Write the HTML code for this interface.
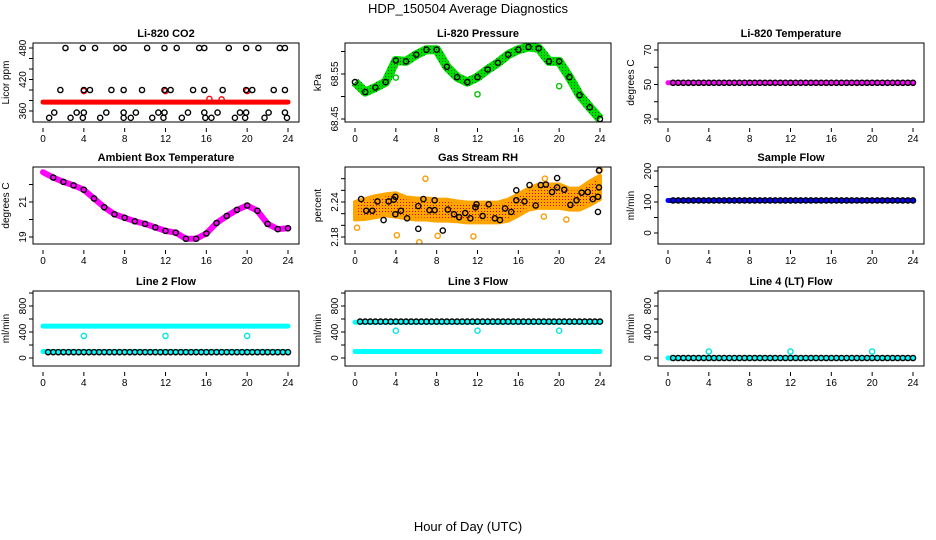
<!DOCTYPE html>
<html><head><meta charset="utf-8">
<style>
html,body{margin:0;padding:0;background:#fff;}
svg{display:block;font-family:"Liberation Sans",Arial,sans-serif;}
</style></head>
<body>
<svg id="chart" width="936" height="540" viewBox="0 0 936 540">
<defs>
<pattern id="orangeDots" width="3" height="3" patternUnits="userSpaceOnUse">
<rect width="3" height="3" fill="#ffa500"/><rect x="1" y="1" width="1" height="1" fill="#e00000"/>
</pattern>
<pattern id="greenDots" width="3" height="3" patternUnits="userSpaceOnUse">
<rect width="3" height="3" fill="#00e000"/><rect x="1" y="1" width="1" height="1" fill="#006000"/>
</pattern>
</defs>
<text x="468" y="13" text-anchor="middle" font-size="13">HDP_150504  Average Diagnostics</text>
<text x="468" y="531" text-anchor="middle" font-size="13">Hour of Day (UTC)</text>
</svg>
<script>
// ---------- data ----------
const hours = [0,1,2,3,4,5,6,7,8,9,10,11,12,13,14,15,16,17,18,19,20,21,22,23,24];
const co2Top = [2.2,3.9,5.1,7.2,7.9,10.2,11.9,13.1,15.3,15.8,18.2,19.9,21.1,23.2,23.7];
const co2Mid = [1.7,4.0,4.6,6.7,7.9,9.7,11.9,12.5,14.7,15.8,17.6,19.9,20.5,22.6,23.7];
const co2Low = [1.1,3.3,4.0,6.2,7.9,9.1,11.3,11.9,14.2,15.8,17.1,19.3,19.9,22.1,23.7];
const co2Bot = [0.6,2.7,3.9,5.6,7.9,8.6,10.7,11.8,13.6,15.9,16.5,18.8,19.8,21.7,23.9];
const co2Levels = [480, 400, 357, 347];
const co2RedLevel = 377;
const co2RedOutH = [4, 12, 16.3, 17.5, 20];
const co2RedOutV = [398, 398, 383, 382, 398];
const pressure = [68.532,68.51,68.52,68.532,68.58,68.578,68.593,68.604,68.604,68.566,68.543,68.532,68.543,68.56,68.575,68.593,68.604,68.61,68.607,68.578,68.578,68.543,68.503,68.476,68.45];
const pressOutH = [4, 12, 20];
const pressOutV = [68.542, 68.505, 68.523];
const liTemp = 51;
const ambient = [22.7,22.4,22.15,21.95,21.7,21.2,20.7,20.3,20.1,19.9,19.75,19.55,19.35,19.25,18.9,18.9,19.2,19.8,20.2,20.55,20.8,20.5,19.75,19.45,19.5];
const rhCenter = [2.225,2.228,2.232,2.235,2.235,2.23,2.228,2.228,2.226,2.226,2.224,2.222,2.222,2.222,2.222,2.226,2.235,2.245,2.25,2.25,2.25,2.245,2.245,2.255,2.265];
const rhHalf = [0.015,0.017,0.018,0.018,0.02,0.018,0.018,0.018,0.018,0.018,0.017,0.017,0.017,0.017,0.017,0.018,0.018,0.018,0.02,0.02,0.02,0.018,0.018,0.02,0.02];
const rhBlackH = [0.6,1.1,1.7,2.2,2.8,3.3,3.8,3.95,3.95,4.5,5.1,6.2,6.2,6.7,7.3,7.8,7.8,8.6,9.1,9.7,10.2,10.8,11.3,11.8,11.9,12.5,13.1,13.7,14.2,14.7,15.3,15.8,15.8,16.6,17.1,17.7,18.2,18.7,19.3,19.8,19.8,20.5,21.1,21.7,22.2,22.8,23.3,23.8,23.8,23.9,23.9];
const rhBlackV = [2.245,2.225,2.225,2.241,2.209,2.241,2.244,2.249,2.219,2.225,2.212,2.233,2.194,2.245,2.226,2.226,2.243,2.191,2.227,2.219,2.214,2.221,2.212,2.231,2.236,2.216,2.236,2.212,2.209,2.229,2.223,2.243,2.26,2.241,2.269,2.234,2.269,2.27,2.257,2.281,2.265,2.261,2.235,2.243,2.256,2.257,2.245,2.223,2.249,2.265,2.294];
const rhOutH = [0.2,4.1,6.3,6.9,8.1,11.6,18.5,18.6,20.7,24];
const rhOutV = [2.196,2.183,2.171,2.28,2.182,2.181,2.215,2.28,2.21,2.295];
const sampleFlow = 105;
const line2Cyan = [490, 100];
const line2Black = 90;
const line2OutV = 340;
const line3Cyan = [550, 100];
const line3Black = 560;
const line3OutV = 420;
const line4Cyan = 0;
const line4Black = 0;
const line4OutV = 100;
const outlierHours = [4, 12, 20];
const xTicks = [0,4,8,12,16,20,24];

// ---------- drawing ----------
const NS = 'http://www.w3.org/2000/svg';
const svg = document.getElementById('chart');
function mk(tag, attrs, parent) {
  const e = document.createElementNS(NS, tag);
  for (const k in attrs) e.setAttribute(k, attrs[k]);
  (parent || svg).appendChild(e);
  return e;
}
const colX0 = [43, 355, 668];
const rowBox = [[43,122],[167,244],[291,366]];
const XS = (913 - 668) / 24;

function panel(col, row, title, ylab, ref, ticks, labels, name) {
  const g = mk('g', {});
  
  
  const x0 = colX0[col];
  const [top, bot] = rowBox[row];
  const left = x0 - 10, right = x0 + 24 * XS + 11;
  const sx = h => x0 + h * XS;
  const k = (ref[3] - ref[1]) / (ref[2] - ref[0]);
  const sy = v => ref[1] + (v - ref[0]) * k;
  const t = mk('text', {x: (left + right) / 2, y: top - 6, 'text-anchor': 'middle', 'font-size': 11, 'font-weight': 'bold'}, g);
  t.textContent = title;
  
  
  const yl = mk('text', {x: 0, y: 0, 'text-anchor': 'middle', 'font-size': 10, transform: `translate(${left - 24},${(top + bot) / 2}) rotate(-90)`}, g);
  yl.textContent = ylab;
  
  
  for (const v of xTicks) {
    mk('line', {x1: sx(v), x2: sx(v), y1: bot + 6, y2: bot + 10, stroke: '#000'}, g);
    const tx = mk('text', {x: sx(v), y: bot + 20, 'text-anchor': 'middle', 'font-size': 10}, g);
    tx.textContent = v;
    
    
  }
  for (const v of ticks) {
    mk('line', {x1: left - 4, x2: left, y1: sy(v), y2: sy(v), stroke: '#000'}, g);
  }
  for (const v of labels) {
    const ty = mk('text', {x: 0, y: 0, 'text-anchor': 'middle', 'font-size': 10, transform: `translate(${left - 7},${sy(v)}) rotate(-90)`}, g);
    ty.textContent = v;
    
    
  }
  const clip = 'clip' + col + row;
  const cp = mk('clipPath', {id: clip}, g);
  mk('rect', {x: left, y: top, width: right - left, height: bot - top}, cp);
  const plot = mk('g', {'clip-path': `url(#${clip})`}, g);
  mk('rect', {x: left, y: top, width: right - left, height: bot - top, fill: 'none', stroke: '#000'}, g);
  return {sx, sy, plot};
}
function pt(p, h, v, color, nm, r) {
  const c = mk('circle', {cx: p.sx(h), cy: p.sy(v), r: r || 2.6, fill: 'none', stroke: color, 'stroke-width': 1.4}, p.plot);
  
  
}
function band(p, v, color, w, nm, h0, h1) {
  const l = mk('line', {x1: p.sx(h0 === undefined ? 0 : h0), x2: p.sx(h1 === undefined ? 24 : h1), y1: p.sy(v), y2: p.sy(v), stroke: color, 'stroke-width': w, 'stroke-linecap': 'round'}, p.plot);
  
  
}
function blackRow(p, v, nm) {
  for (let h = 0.5; h <= 24.01; h += 0.5) pt(p, h, v, '#000', nm);
}

// Panel 1: CO2
let p = panel(0, 0, 'Li-820 CO2', 'Licor ppm', [360,111,480,48], [360,380,400,420,440,460,480], [360,420,480], 'co2');
band(p, co2RedLevel, '#ff0000', 5, 'co2-red-series');
co2RedOutH.forEach((h, i) => pt(p, h, co2RedOutV[i], '#ff0000', 'co2-red-outlier'));
[co2Top, co2Mid, co2Low, co2Bot].forEach((arr, j) => arr.forEach(h => pt(p, h, co2Levels[j], '#000', 'co2-black-point')));

// Panel 2: Pressure
p = panel(1, 0, 'Li-820 Pressure', 'kPa', [68.45,119,68.55,74], [68.45,68.50,68.55,68.60], ['68.45','68.55'], 'pressure');
const pline = mk('polyline', {points: hours.map((h, i) => p.sx(h) + ',' + p.sy(pressure[i])).join(' '), fill: 'none', stroke: 'url(#greenDots)', 'stroke-width': 9, 'stroke-linejoin': 'round'}, p.plot);


pressOutH.forEach((h, i) => pt(p, h, pressOutV[i], '#00c000', 'pressure-green-outlier'));
hours.forEach((h, i) => pt(p, h, pressure[i], '#000', 'pressure-black-point'));

// Panel 3: Li-820 Temperature
p = panel(2, 0, 'Li-820 Temperature', 'degrees C', [30,119,70,50], [30,40,50,60,70], [30,50,70], 'li820-temp');
band(p, liTemp, '#ff00ff', 5, 'temp-magenta-series');
blackRow(p, liTemp, 'temp-black-point');

// Panel 4: Ambient
p = panel(0, 1, 'Ambient Box Temperature', 'degrees C', [19,237,21,202], [19,20,21,22], [19,21], 'ambient');
const aline = mk('polyline', {points: hours.map((h, i) => p.sx(h) + ',' + p.sy(ambient[i])).join(' '), fill: 'none', stroke: '#ff00ff', 'stroke-width': 6, 'stroke-linejoin': 'round', 'stroke-linecap': 'round'}, p.plot);


hours.forEach((h, i) => { if (h > 0) pt(p, h, ambient[i], '#000', 'ambient-black-point'); });

// Panel 5: RH
p = panel(1, 1, 'Gas Stream RH', 'percent', [2.18,237,2.24,202], [2.18,2.20,2.22,2.24,2.26,2.28], ['2.18','2.24'], 'rh');
const upper = hours.map((h, i) => p.sx(h) + ',' + p.sy(rhCenter[i] + rhHalf[i]));
const lower = hours.map((h, i) => p.sx(h) + ',' + p.sy(rhCenter[i] - rhHalf[i])).reverse();
const rb = mk('polygon', {points: upper.concat(lower).join(' '), fill: 'url(#orangeDots)', stroke: '#ffa500', 'stroke-width': 4, 'stroke-linejoin': 'round'}, p.plot);


rhOutH.forEach((h, i) => pt(p, h, rhOutV[i], '#ff9900', 'rh-orange-outlier'));
rhBlackH.forEach((h, i) => pt(p, h, rhBlackV[i], '#000', 'rh-black-point'));

// Panel 6: Sample flow
p = panel(2, 1, 'Sample Flow', 'ml/min', [0,233,200,171], [0,50,100,150,200], [0,100,200], 'sample-flow');
band(p, sampleFlow, '#0000ff', 5, 'sample-flow-blue-series');
blackRow(p, sampleFlow, 'sample-flow-black-point');

// Panels 7-9: line flows
const flowRef = [0,358,800,306], flowTicks = [0,200,400,600,800,1000], flowLabels = [0,400,800];
p = panel(0, 2, 'Line 2 Flow', 'ml/min', flowRef, flowTicks, flowLabels, 'line2-flow');
line2Cyan.forEach(v => band(p, v, '#00ffff', 5, 'line2-cyan-series'));
outlierHours.forEach(h => pt(p, h, line2OutV, '#00e5e5', 'line2-cyan-outlier'));
blackRow(p, line2Black, 'line2-black-point');

p = panel(1, 2, 'Line 3 Flow', 'ml/min', flowRef, flowTicks, flowLabels, 'line3-flow');
line3Cyan.forEach(v => band(p, v, '#00ffff', 5, 'line3-cyan-series'));
outlierHours.forEach(h => pt(p, h, line3OutV, '#00e5e5', 'line3-cyan-outlier'));
blackRow(p, line3Black, 'line3-black-point');

p = panel(2, 2, 'Line 4 (LT) Flow', 'ml/min', flowRef, flowTicks, flowLabels, 'line4-flow');
band(p, line4Cyan, '#00ffff', 5, 'line4-cyan-series');
outlierHours.forEach(h => pt(p, h, line4OutV, '#00e5e5', 'line4-cyan-outlier'));
blackRow(p, line4Black, 'line4-black-point');
</script>
</body></html>
